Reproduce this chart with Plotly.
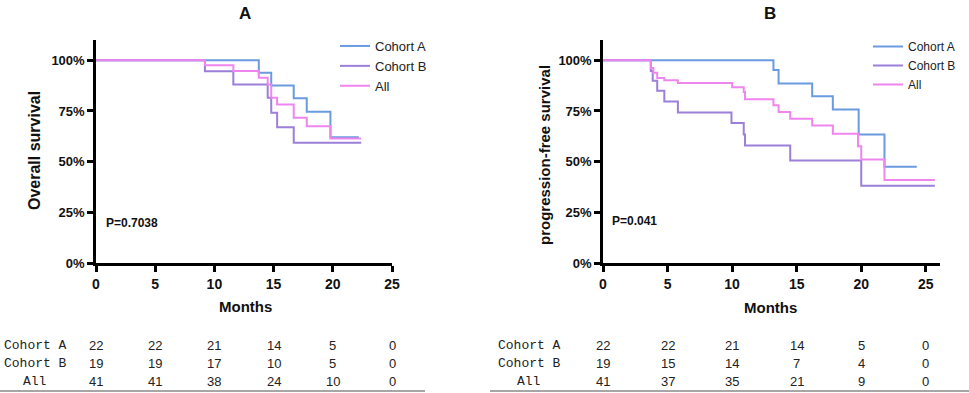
import plotly.graph_objects as go

W, H = 969, 393

# ---------------- data ----------------
cohorts = ["Cohort A", "Cohort B", "All"]
colors = ["#6a9be0", "#9b7fd8", "#ef85ee"]

# Panel A: Overall survival (time in months, survival %)
os_a_t = [0, 13.75, 14.8, 16.7, 17.8, 19.8]
os_a_s = [100, 93.8, 87.6, 81.3, 74.6, 62.0]
os_a_end = 22.2
os_b_t = [0, 9.2, 11.6, 14.5, 14.8, 15.3, 16.7]
os_b_s = [100, 94.6, 88.1, 81.5, 74.1, 67.0, 59.3]
os_b_end = 22.4
os_all_t = [0, 9.2, 11.6, 13.75, 14.5, 14.8, 15.3, 16.7, 17.8, 19.8]
os_all_s = [100, 97.5, 94.7, 91.4, 88.1, 81.5, 78.2, 71.6, 67.5, 61.4]
os_all_end = 22.4

# Panel B: progression-free survival
pfs_a_t = [0, 13.2, 13.6, 16.2, 17.8, 19.8, 21.8]
pfs_a_s = [100, 95.2, 88.6, 82.3, 75.7, 63.4, 47.5]
pfs_a_end = 24.3
pfs_b_t = [0, 3.7, 3.85, 4.2, 4.75, 5.8, 9.95, 10.9, 11.0, 14.5, 20.0]
pfs_b_s = [100, 94.7, 89.9, 85.0, 79.7, 74.2, 69.0, 63.4, 58.0, 50.5, 38.1]
pfs_b_end = 25.7
pfs_all_t = [0, 3.7, 3.9, 4.2, 4.75, 5.8, 10.0, 10.9, 11.0, 13.2, 13.6, 14.5, 16.2, 17.8, 19.75, 20.0, 21.8]
pfs_all_s = [100, 96.2, 93.9, 91.3, 90.2, 88.8, 86.7, 84.3, 80.8, 77.8, 74.5, 71.2, 67.8, 63.8, 57.6, 51.0, 40.9]
pfs_all_end = 25.7

# numbers at risk
risk_months = [0, 5, 10, 15, 20, 25]
risk_a_A = [22, 22, 21, 14, 5, 0]
risk_a_B = [19, 19, 17, 10, 5, 0]
risk_a_All = [41, 41, 38, 24, 10, 0]
risk_b_A = [22, 22, 21, 14, 5, 0]
risk_b_B = [19, 15, 14, 7, 4, 0]
risk_b_All = [41, 37, 35, 21, 9, 0]

x_ticks = [0, 5, 10, 15, 20, 25]
y_ticks = [0, 25, 50, 75, 100]
y_ticktext = ["0%", "25%", "50%", "75%", "100%"]

p_a = "P=0.7038"
p_b = "P=0.041"

# ---------------- figure ----------------
def px(x):
    return x / W

def py(y):
    return (H - y) / H

fig = go.Figure()

def add_curve(t, s, end, name, color, xa, ya, legend):
    xs = list(t) + [end]
    ys = list(s) + [s[-1]]
    fig.add_trace(go.Scatter(
        x=xs, y=ys, mode="lines", line=dict(shape="hv", color=color, width=2),
        name=name, xaxis=xa, yaxis=ya, legend=legend, hoverinfo="skip"))

add_curve(os_a_t, os_a_s, os_a_end, cohorts[0], colors[0], "x", "y", "legend")
add_curve(os_b_t, os_b_s, os_b_end, cohorts[1], colors[1], "x", "y", "legend")
add_curve(os_all_t, os_all_s, os_all_end, cohorts[2], colors[2], "x", "y", "legend")
add_curve(pfs_a_t, pfs_a_s, pfs_a_end, cohorts[0], colors[0], "x2", "y2", "legend2")
add_curve(pfs_b_t, pfs_b_s, pfs_b_end, cohorts[1], colors[1], "x2", "y2", "legend2")
add_curve(pfs_all_t, pfs_all_s, pfs_all_end, cohorts[2], colors[2], "x2", "y2", "legend2")

sans = "Arial, Liberation Sans, sans-serif"
ax_common = dict(showline=True, linecolor="#000", linewidth=2.5, ticks="outside",
                 ticklen=6, tickwidth=2.5, tickcolor="#000", showgrid=False,
                 zeroline=False, automargin=False, fixedrange=True)

ydom = [py(263), py(40)]
fig.update_layout(
    width=W, height=H, margin=dict(l=0, r=0, t=0, b=0, autoexpand=False),
    paper_bgcolor="white", plot_bgcolor="white",
    showlegend=True,
    xaxis=dict(domain=[px(96), px(392)], range=[0, 25], tickvals=x_ticks, anchor="y", **ax_common),
    yaxis=dict(domain=ydom, range=[0, 110], tickvals=y_ticks, ticktext=y_ticktext, anchor="x", **ax_common),
    xaxis2=dict(domain=[px(603), px(940)], range=[0, 26.1], tickvals=x_ticks, anchor="y2", **ax_common),
    yaxis2=dict(domain=ydom, range=[0, 110], tickvals=y_ticks, ticktext=y_ticktext, anchor="x2", **ax_common),
    legend=dict(x=px(335), y=py(31), xanchor="left", yanchor="top", bgcolor="rgba(0,0,0,0)",
                font=dict(family=sans, size=13, color="#222"), tracegroupgap=0),
    legend2=dict(x=px(868), y=py(32), xanchor="left", yanchor="top", bgcolor="rgba(0,0,0,0)",
                 font=dict(family=sans, size=12, color="#222"), tracegroupgap=0),
)
fig.update_xaxes(tickfont=dict(family=sans, size=14, color="#111", weight="bold"))
fig.update_yaxes(tickfont=dict(family=sans, size=13, color="#111", weight="bold"))

annots = []
def ann(text, x, y, size=14, bold_=True, xanchor="center", angle=0, family=sans, color="#111", xref="paper", yref="paper"):
    t = f"<b>{text}</b>" if bold_ else text
    annots.append(dict(text=t, x=x, y=y, xref=xref, yref=yref, showarrow=False,
                       xanchor=xanchor, yanchor="middle", textangle=angle,
                       font=dict(family=family, size=size, color=color)))

ann("A", px(245), py(13), size=17)
ann("B", px(770), py(13), size=17)
ann("Overall survival", px(34), py(151), size=16, angle=-90)
ann("progression-free survival", px(544), py(155), size=15, angle=-90)
ann("Months", px(245), py(306), size=15)
ann("Months", px(770), py(307), size=15)
ann(p_a, px(104), py(223), size=12, xanchor="left")
ann(p_b, px(610), py(221), size=12, xanchor="left")

row_y = [345, 363, 381]
mono = "Liberation Mono, Courier New, monospace"
for lbl, yy in zip(cohorts, row_y):
    ann(lbl, px(35), py(yy), size=13, bold_=False, family=mono, color="#222")
    ann(lbl, px(529), py(yy), size=13, bold_=False, family=mono, color="#222")

for vals, yy in zip([risk_a_A, risk_a_B, risk_a_All], row_y):
    for m, v in zip(risk_months, vals):
        annots.append(dict(text=str(v), x=m, y=py(yy), xref="x", yref="paper", showarrow=False,
                           xanchor="center", yanchor="middle",
                           font=dict(family=sans, size=13, color="#222")))
for vals, yy in zip([risk_b_A, risk_b_B, risk_b_All], row_y):
    for m, v in zip(risk_months, vals):
        annots.append(dict(text=str(v), x=m, y=py(yy), xref="x2", yref="paper", showarrow=False,
                           xanchor="center", yanchor="middle",
                           font=dict(family=sans, size=13, color="#222")))

fig.update_layout(annotations=annots)
fig.update_layout(shapes=[
    dict(type="line", xref="paper", yref="paper", x0=0, x1=px(425), y0=py(391), y1=py(391),
         line=dict(color="#888", width=1.5)),
    dict(type="line", xref="paper", yref="paper", x0=px(490), x1=1, y0=py(391), y1=py(391),
         line=dict(color="#888", width=1.5)),
])

fig.write_html("out.html", config={"displayModeBar": False},
               post_script="document.body.style.margin='0';document.body.style.overflow='hidden';")
